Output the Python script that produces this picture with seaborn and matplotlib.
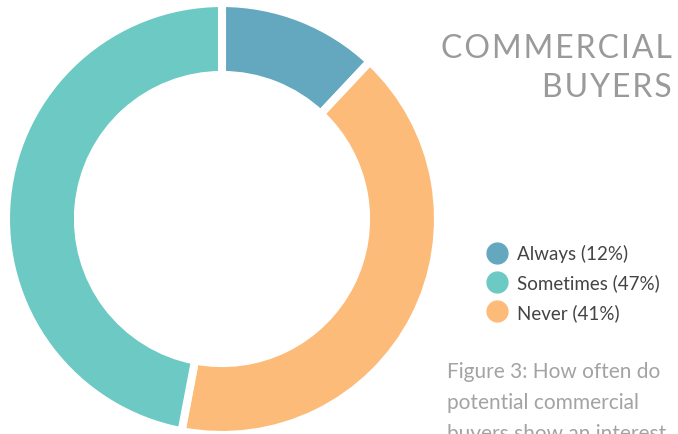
import matplotlib
matplotlib.use("Agg")
import matplotlib.pyplot as plt
from matplotlib.lines import Line2D
import seaborn as sns

categories = ["Always", "Never", "Sometimes"]
values = [12, 41, 47]
legend_order = ["Always", "Sometimes", "Never"]
colors = {"Always": "#64A8C0", "Sometimes": "#6CC9C3", "Never": "#FDBB7A"}
title_lines = ["COMMERCIAL", "BUYERS"]
caption_lines = ["Figure 3: How often do", "potential commercial", "buyers show an interest"]

sns.set_theme(style="white")
plt.rcParams['font.family'] = ['Lato', 'DejaVu Sans']

W, H = 678, 435
fig = plt.figure(figsize=(W / 100, H / 100), dpi=100)
fig.patch.set_facecolor("white")

cx, cy, R = 222, 220, 216
ax = fig.add_axes([(cx - R) / W, (H - cy - R) / H, 2 * R / W, 2 * R / H])
ax.pie(values, colors=[colors[c] for c in categories], startangle=90,
       counterclock=False, radius=1.0,
       wedgeprops=dict(width=0.333, edgecolor="white", linewidth=5.8))
ax.set_xlim(-1, 1)
ax.set_ylim(-1, 1)
ax.set_aspect("equal")
ax.axis("off")

def spaced(s):
    return "\u200a".join(s)

for i, line in enumerate(title_lines):
    fig.text(672 / W, 1 - (58 + 39 * i) / H, spaced(line), ha="right", va="baseline",
             fontsize=23, color="#9a9a9a", fontweight="normal",
             family=['Lato', 'DejaVu Sans'])

pct = dict(zip(categories, values))
handles = [Line2D([0], [0], marker="o", linestyle="none", markersize=15,
                  markerfacecolor=colors[c], markeredgecolor=colors[c])
           for c in legend_order]
labels = [f"{c} ({pct[c]}%)" for c in legend_order]
leg = fig.legend(handles, labels, loc="upper left",
                 bbox_to_anchor=(476 / W, 1 - 236 / H), frameon=False,
                 fontsize=13.5, handletextpad=0.5, labelspacing=0.6,
                 handlelength=1.2, borderpad=0)
for t in leg.get_texts():
    t.set_color("#444444")

for i, line in enumerate(caption_lines):
    fig.text(447 / W, 1 - (378 + 31 * i) / H, line, ha="left", va="baseline",
             fontsize=15, color="#a3a3a3", fontweight="normal")

fig.savefig("out.png", dpi=100, facecolor="white")
